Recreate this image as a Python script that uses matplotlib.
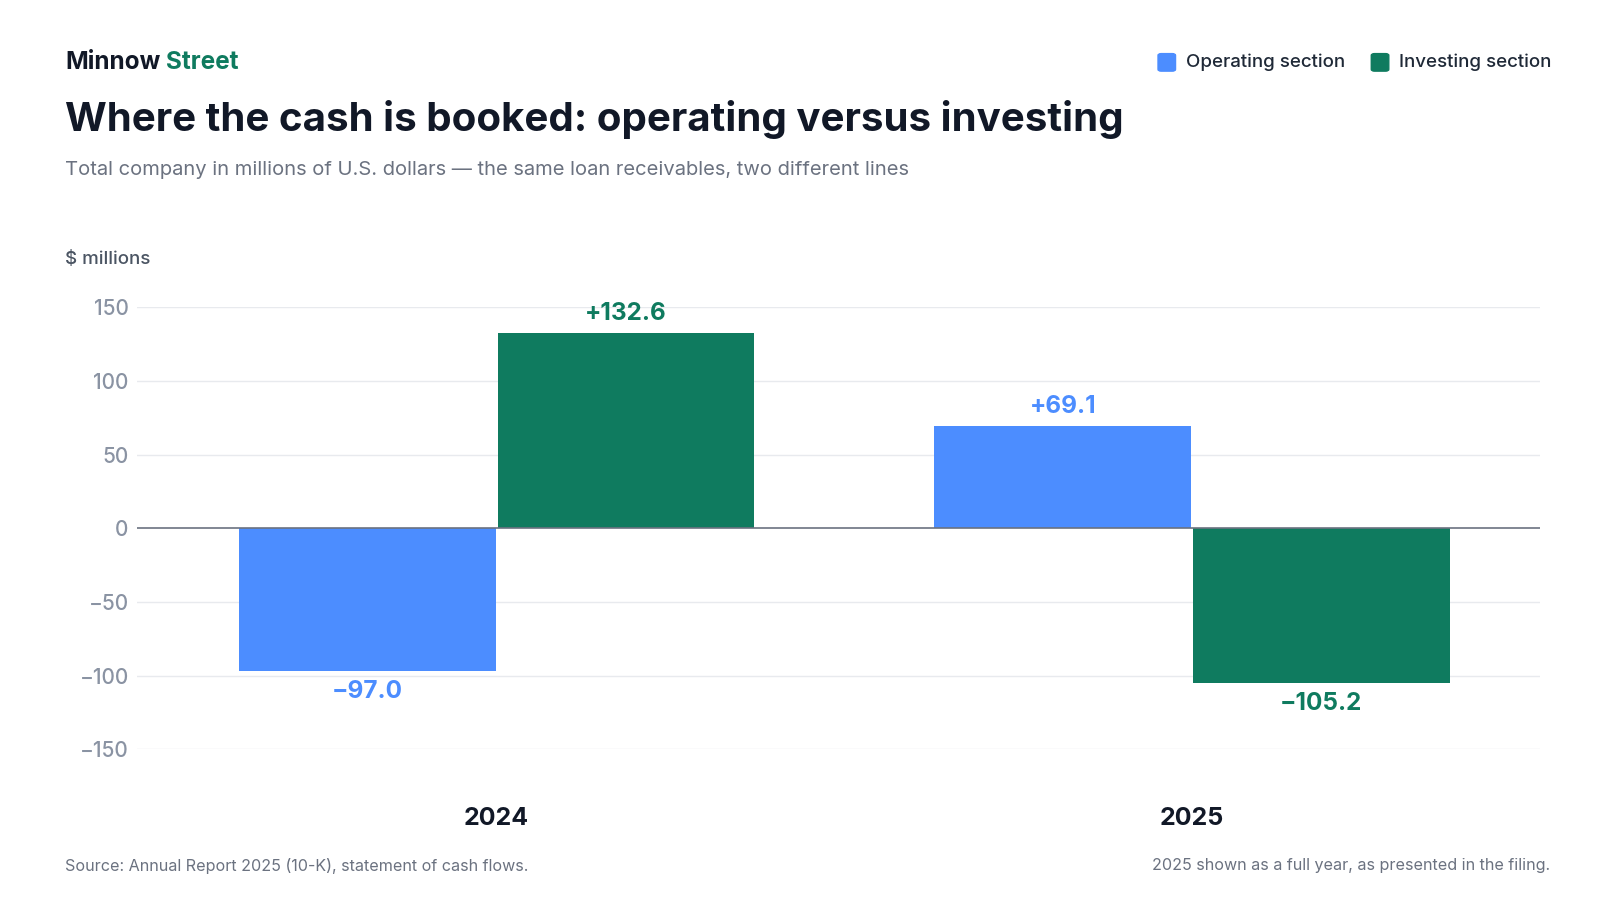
import matplotlib.pyplot as plt
from matplotlib.patches import FancyBboxPatch

plt.rcParams['font.family'] = ['Inter', 'DejaVu Sans']

years = ["2024", "2025"]
operating = [-97.0, 69.1]
investing = [132.6, -105.2]
labels_op = ["\u221297.0", "+69.1"]
labels_inv = ["+132.6", "\u2212105.2"]
yticks = [150, 100, 50, 0, -50, -100, -150]

BLUE = "#4C8DFF"
GREEN = "#0F7B5F"
DARK = "#111827"
GREY = "#6B7280"
TICK = "#8A93A3"

# reference measured in a 1553x873 frame
W, H = 1553, 873

fig = plt.figure(figsize=(16, 9), dpi=100)
ax = fig.add_axes([133 / W, 1 - 727 / H, 1362 / W, 429 / H])

w = 249 / 675
gap = 2 / 675
xs = range(len(years))
for i in xs:
    ax.bar(i - w / 2 - gap / 2, operating[i], width=w, color=BLUE, zorder=2)
    ax.bar(i + w / 2 + gap / 2, investing[i], width=w, color=GREEN, zorder=2)
    for xpos, val, lab, col in [(i - w / 2 - gap / 2, operating[i], labels_op[i], BLUE),
                                (i + w / 2 + gap / 2, investing[i], labels_inv[i], GREEN)]:
        off = 6 if val > 0 else -6
        ax.annotate(lab, (xpos, val), xytext=(0, off), textcoords="offset points",
                    ha="center", va="bottom" if val > 0 else "top",
                    fontsize=17.5, fontweight="bold", color=col)

ax.set_xlim(-(482 - 133) / 675, 1 + (1495 - 1157) / 675)
ax.set_ylim(-150, 150)
ax.set_yticks(yticks)
ax.set_yticklabels([str(t).replace("-", "\u2212") for t in yticks], fontsize=15,
                   color=TICK, fontweight="medium")
ax.tick_params(axis="y", length=0, pad=6)
ax.set_xticks([])
for t in yticks:
    if t != 0:
        ax.axhline(t, color="#E8EAEE", lw=1, zorder=0)
ax.axhline(0, color="#6B7280", lw=1.2, zorder=3)
for s in ax.spines.values():
    s.set_visible(False)
for i, y in enumerate(years):
    ax.text(i, -0.155, y, transform=ax.get_xaxis_transform(), ha="center", va="center",
            fontsize=18, fontweight="bold", color=DARK)

fig.text(63 / W, 1 - 61 / H, "Minnow", fontsize=17.5, fontweight="bold", color=DARK, va="center")
fig.text(161 / W, 1 - 61 / H, "Street", fontsize=17.5, fontweight="bold", color=GREEN, va="center")
fig.text(63 / W, 1 - 116 / H, "Where the cash is booked: operating versus investing",
         fontsize=29, fontweight="bold", color=DARK, va="center")
fig.text(63 / W, 1 - 165 / H,
         "Total company in millions of U.S. dollars \u2014 the same loan receivables, two different lines",
         fontsize=14.5, color=GREY, va="center")
fig.text(63 / W, 1 - 252 / H, "$ millions", fontsize=13.5, color="#4B5563", va="center",
         fontweight="medium")
fig.text(63 / W, 1 - 840 / H, "Source: Annual Report 2025 (10-K), statement of cash flows.",
         fontsize=11.6, color=GREY, va="center")
fig.text(1505 / W, 1 - 840 / H, "2025 shown as a full year, as presented in the filing.",
         fontsize=11.6, color=GREY, va="center", ha="right")

# legend
for x0, col, lab in [(1124, BLUE, "Operating section"), (1331, GREEN, "Investing section")]:
    fig.patches.append(FancyBboxPatch((x0 / W, 1 - 69 / H), 17 / W, 17 / H,
                                      boxstyle="round,pad=0,rounding_size=0.002",
                                      transform=fig.transFigure, color=col))
    fig.text((x0 + 27) / W, 1 - 60 / H, lab, fontsize=13.5, color="#1F2937", va="center",
             fontweight="medium")

fig.savefig("out.png", dpi=100, facecolor="white")
